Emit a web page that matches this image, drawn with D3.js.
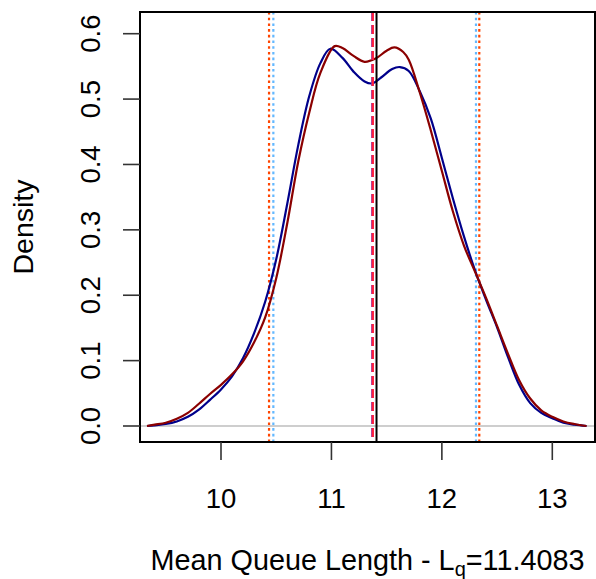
<!DOCTYPE html>
<html>
<head>
<meta charset="utf-8">
<script src="https://cdn.jsdelivr.net/npm/d3@7"></script>
<style>
  html, body { margin: 0; padding: 0; background: #fff; }
  svg { display: block; font-family: "Liberation Sans", Arial, Helvetica, sans-serif; }
</style>
</head>
<body>
<div id="chart"></div>
<script>
// ---- data ----
const blueX = [9.33, 9.4, 9.5, 9.6, 9.7, 9.8, 9.9, 10.0, 10.1, 10.2, 10.3, 10.4, 10.5, 10.6, 10.7, 10.8, 10.9, 10.99, 11.1, 11.2, 11.3, 11.37, 11.45, 11.55, 11.62, 11.7, 11.8, 11.9, 12.0, 12.1, 12.2, 12.3, 12.4, 12.5, 12.6, 12.7, 12.8, 12.9, 13.0, 13.1, 13.2, 13.31];
const blueY = [0.000, 0.001, 0.003, 0.007, 0.014, 0.025, 0.040, 0.056, 0.076, 0.104, 0.142, 0.190, 0.255, 0.340, 0.430, 0.505, 0.555, 0.577, 0.563, 0.542, 0.527, 0.524, 0.533, 0.546, 0.549, 0.543, 0.512, 0.470, 0.410, 0.348, 0.290, 0.238, 0.193, 0.151, 0.105, 0.063, 0.035, 0.020, 0.012, 0.005, 0.002, 0.000];
const redX = [9.33, 9.4, 9.5, 9.6, 9.7, 9.8, 9.9, 10.0, 10.1, 10.2, 10.3, 10.4, 10.5, 10.6, 10.7, 10.8, 10.9, 11.03, 11.1, 11.2, 11.3, 11.4, 11.5, 11.57, 11.65, 11.7, 11.8, 11.9, 12.0, 12.1, 12.2, 12.3, 12.4, 12.5, 12.6, 12.7, 12.8, 12.9, 13.0, 13.1, 13.2, 13.31];
const redY = [0.000, 0.002, 0.005, 0.011, 0.020, 0.034, 0.049, 0.063, 0.079, 0.099, 0.128, 0.166, 0.226, 0.310, 0.405, 0.480, 0.540, 0.581, 0.578, 0.566, 0.557, 0.562, 0.574, 0.579, 0.572, 0.560, 0.510, 0.452, 0.390, 0.328, 0.276, 0.236, 0.196, 0.153, 0.110, 0.070, 0.042, 0.024, 0.014, 0.007, 0.003, 0.000];

const trueLq = 11.4083;
const meanBlue = 11.370;
const meanRed = 11.374;
const intervalBlue = [10.474, 12.309];
const intervalRed = [10.435, 12.339];

const xTicks = [10, 11, 12, 13];
const yTicks = [0.0, 0.1, 0.2, 0.3, 0.4, 0.5, 0.6];
const yTickLabels = ["0.0", "0.1", "0.2", "0.3", "0.4", "0.5", "0.6"];
const xTitle = ["Mean Queue Length - L", "q", "=11.4083"];
const yTitle = "Density";

// ---- layout ----
const W = 596, H = 579;
const plot = { left: 140, right: 595, top: 12, bottom: 442 };

const x = d3.scaleLinear().domain([10, 13]).range([221, 552.3]);
const y = d3.scaleLinear().domain([0, 0.6]).range([426, 33.7]);

const svg = d3.select("#chart").append("svg").attr("width", W).attr("height", H);

svg.append("defs").append("clipPath").attr("id", "clip")
  .append("rect").attr("x", plot.left).attr("y", plot.top)
  .attr("width", plot.right - plot.left).attr("height", plot.bottom - plot.top);

const g = svg.append("g").attr("clip-path", "url(#clip)");

// zero line
g.append("line").attr("x1", plot.left).attr("x2", plot.right)
  .attr("y1", y(0)).attr("y2", y(0))
  .attr("stroke", "#bebebe").attr("stroke-width", 1.5);

// interval lines (dotted)
function vline(v, color, dash, width, offset) {
  g.append("line").attr("x1", x(v)).attr("x2", x(v))
    .attr("y1", plot.top).attr("y2", plot.bottom)
    .attr("stroke", color).attr("stroke-width", width)
    .attr("stroke-dasharray", dash)
    .attr("stroke-dashoffset", offset || 0);
}
intervalRed.forEach(v => vline(v, "#ff4500", "2.6,3.1", 2.2));
intervalBlue.forEach(v => vline(v, "#63b8ff", "2.6,3.1", 2.2));

// curves
const line = d3.line().x(d => x(d[0])).y(d => y(d[1])).curve(d3.curveCatmullRom.alpha(0.5));
const blueData = blueX.map((v, i) => [v, blueY[i]]);
const redData = redX.map((v, i) => [v, redY[i]]);
g.append("path").datum(blueData).attr("d", line)
  .attr("fill", "none").attr("stroke", "#00008b").attr("stroke-width", 2.2);
g.append("path").datum(redData).attr("d", line)
  .attr("fill", "none").attr("stroke", "#8b0000").attr("stroke-width", 2.2);

// means (dashed) and true value
vline(meanBlue, "#5a3cd8", "9,4", 2.2, 0);
vline(meanRed, "#ff1f3d", "9,4", 2.4, 0);
vline(trueLq, "#000000", null, 2);

// box
svg.append("rect").attr("x", plot.left).attr("y", plot.top)
  .attr("width", plot.right - plot.left).attr("height", plot.bottom - plot.top)
  .attr("fill", "none").attr("stroke", "#000").attr("stroke-width", 2);

// x axis
const xAxis = svg.append("g");
xTicks.forEach(t => {
  xAxis.append("line").attr("x1", x(t)).attr("x2", x(t))
    .attr("y1", plot.bottom).attr("y2", plot.bottom + 18)
    .attr("stroke", "#333").attr("stroke-width", 1.6);
  xAxis.append("text").attr("x", x(t)).attr("y", 508)
    .attr("text-anchor", "middle").attr("font-size", 27.5).attr("fill", "#000")
    .text(t);
});

// y axis
const yAxis = svg.append("g");
yTicks.forEach((t, i) => {
  yAxis.append("line").attr("x1", plot.left - 17).attr("x2", plot.left)
    .attr("y1", y(t)).attr("y2", y(t))
    .attr("stroke", "#333").attr("stroke-width", 1.6);
  yAxis.append("text").attr("transform", `translate(100,${y(t)}) rotate(-90)`)
    .attr("text-anchor", "middle").attr("font-size", 27.5).attr("fill", "#000")
    .text(yTickLabels[i]);
});

// titles
const xt = svg.append("text").attr("x", (plot.left + plot.right) / 2).attr("y", 570)
  .attr("text-anchor", "middle").attr("font-size", 28.8).attr("fill", "#000");
xt.append("tspan").text(xTitle[0]);
xt.append("tspan").attr("font-size", 20).attr("dy", 6).text(xTitle[1]);
xt.append("tspan").attr("dy", -6).text(xTitle[2]);

svg.append("text").attr("transform", `translate(33,${(plot.top + plot.bottom) / 2}) rotate(-90)`)
  .attr("text-anchor", "middle").attr("font-size", 28.5).attr("fill", "#000")
  .text(yTitle);
</script>
</body>
</html>
